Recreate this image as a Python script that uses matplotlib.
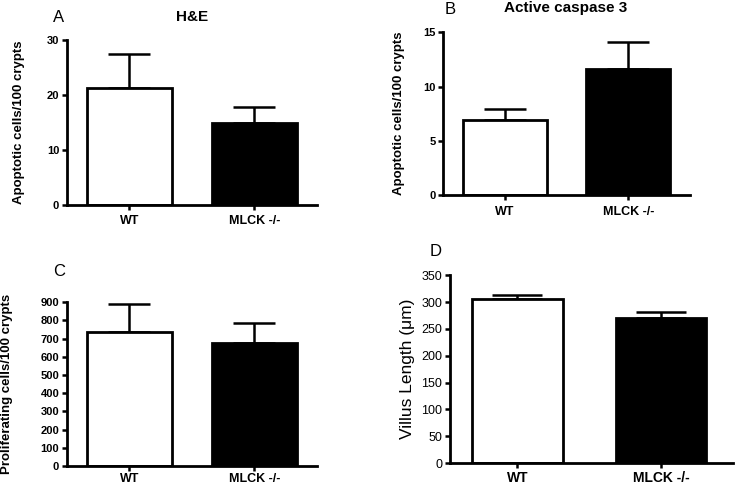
import matplotlib
matplotlib.use("Agg")
import matplotlib.pyplot as plt

plt.rcParams['font.family'] = ['Liberation Sans', 'DejaVu Sans']

groups = ['WT', 'MLCK -/-']
colors = ['white', 'black']

# panel A: H&E apoptosis
a_mean = [21.3, 14.9]
a_err = [6.2, 2.9]
# panel B: active caspase 3
b_mean = [6.9, 11.6]
b_err = [1.0, 2.5]
# panel C: proliferation
c_mean = [735, 678]
c_err = [155, 105]
# panel D: villus length
d_mean = [305, 271]
d_err = [9, 11]

fig = plt.figure(figsize=(7.35, 4.88), dpi=100)


def panel(rect, mean, err, ylim, yticks, ylabel, width, cap,
          tick_fs, lab_fs, lab_bold, tick_bold, xlim, xfs, labx, xpad):
    ax = fig.add_axes(rect)
    x = [0, 1]
    ax.errorbar(x, mean, yerr=[[0, 0], err], fmt='none', ecolor='black',
                elinewidth=1.8, capsize=cap, capthick=1.8, zorder=1)
    ax.bar(x, mean, width=width, color=colors, edgecolor='black',
           linewidth=2.0, zorder=2)
    ax.set_xlim(*xlim)
    ax.set_ylim(*ylim)
    ax.set_yticks(yticks)
    ax.set_xticks(x)
    ax.set_xticklabels(groups, fontsize=xfs, fontweight='bold')
    for lab in ax.get_yticklabels():
        lab.set_fontsize(tick_fs)
        lab.set_fontweight('bold' if tick_bold else 'normal')
    ax.set_ylabel(ylabel, fontsize=lab_fs, va='center',
                  fontweight='bold' if lab_bold else 'normal')
    ax.yaxis.set_label_coords(labx, 0.5)
    for s in ['top', 'right']:
        ax.spines[s].set_visible(False)
    for s in ['left', 'bottom']:
        ax.spines[s].set_linewidth(2.0)
    ax.tick_params(axis='both', width=1.8, length=3.5, pad=2)
    ax.tick_params(axis='x', pad=xpad)
    return ax


axA = panel([0.091, 0.580, 0.340, 0.338], a_mean, a_err, (0, 30),
            [0, 10, 20, 30], 'Apoptotic cells/100 crypts', 0.68, 15,
            8, 9.5, True, True, (-0.5, 1.5), 9, -0.192, 4)
axB = panel([0.603, 0.600, 0.336, 0.334], b_mean, b_err, (0, 15),
            [0, 5, 10, 15], 'Apoptotic cells/100 crypts', 0.68, 15,
            8, 9.5, True, True, (-0.5, 1.5), 9, -0.178, 4)
axC = panel([0.091, 0.045, 0.340, 0.336], c_mean, c_err, (0, 900),
            list(range(0, 1000, 100)), 'Proliferating cells/100 crypts', 0.68, 15,
            8, 9.5, True, True, (-0.5, 1.5), 9, -0.24, 1.5)
axD = panel([0.612, 0.051, 0.385, 0.385], d_mean, d_err, (0, 350),
            list(range(0, 400, 50)), 'Villus Length (\u03bcm)', 0.63, 18,
            9, 12.5, False, False, (-0.47, 1.5), 10, -0.15, 2)

fig.text(53 / 735, 1 - 17 / 488, 'A', fontsize=12, va='center')
fig.text(192 / 735, 1 - 17 / 488, 'H&E', fontsize=11, fontweight='bold',
         ha='center', va='center')
fig.text(445 / 735, 1 - 10 / 488, 'B', fontsize=12, va='center')
fig.text(566 / 735, 1 - 8 / 488, 'Active caspase 3', fontsize=11,
         fontweight='bold', ha='center', va='center')
fig.text(53 / 735, 1 - 272 / 488, 'C', fontsize=12, va='center')
fig.text(430 / 735, 1 - 252 / 488, 'D', fontsize=12, va='center')

fig.savefig('out.png', dpi=100)
